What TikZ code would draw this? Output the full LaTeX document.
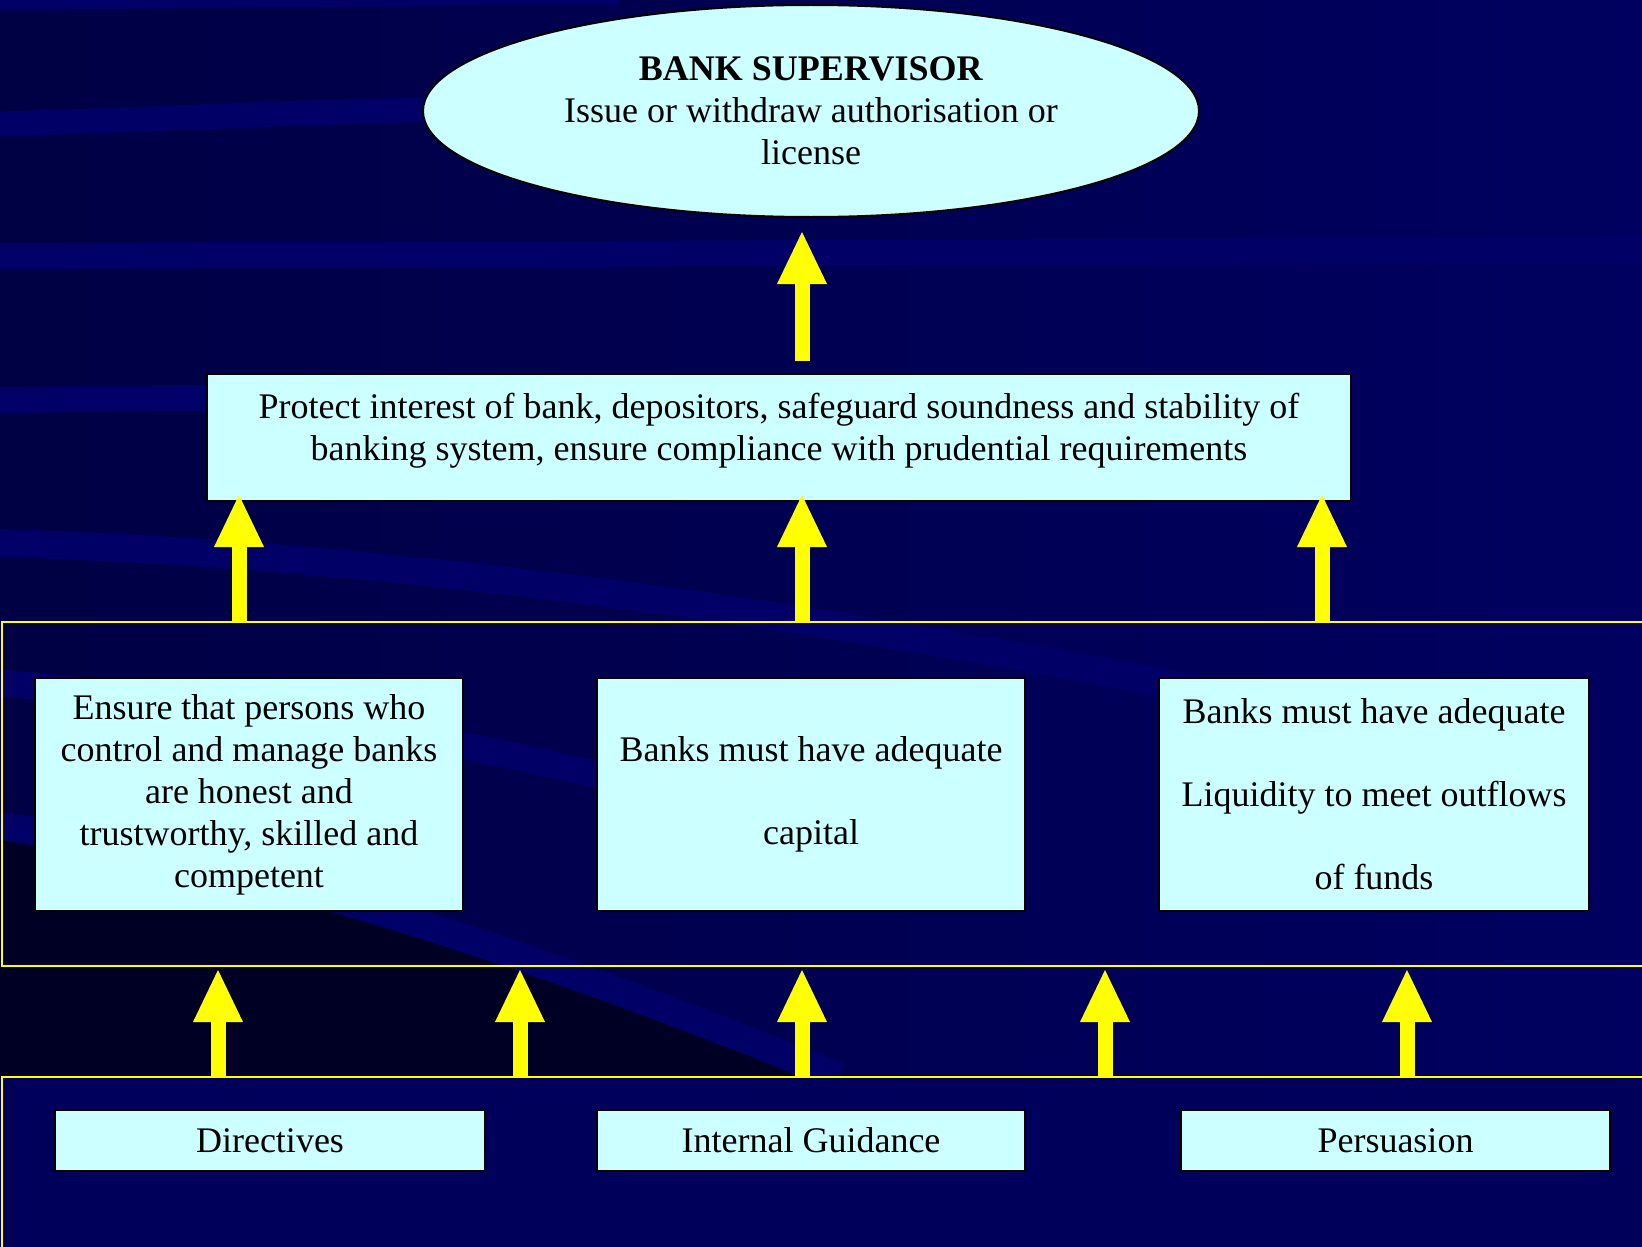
\documentclass[tikz,border=0pt]{standalone}
\usepackage{fontspec}
\setmainfont{Liberation Serif}
\usetikzlibrary{shapes.geometric,arrows.meta,calc}
\definecolor{bgL}{HTML}{000044}
\definecolor{bgR}{HTML}{000060}
\definecolor{bandc}{HTML}{000066}
\definecolor{darkc}{HTML}{000024}
\definecolor{botc}{HTML}{00005A}
\definecolor{boxc}{HTML}{CCFFFF}
\definecolor{yel}{HTML}{FFFF00}
\begin{document}
\begin{tikzpicture}[x=1pt,y=-1pt,
  every node/.style={font=\fontsize{36pt}{42pt}\selectfont, text=black},
  cbox/.style={draw=black, line width=2pt, fill=boxc, inner sep=0pt, align=center},
  band/.style={draw=bandc, line width=#1},
  yarrow/.style={draw=yel, line width=15pt, -{Triangle[width=50pt,length=52pt,line width=0pt]}},
  panel/.style={draw=yel, line width=2pt}]
% background
\fill[left color=bgL, right color=bgR] (0,0) rectangle (1642,1247);
\useasboundingbox (0,0) rectangle (1642,1247);
\draw[band=10pt] (0,5) .. controls (200,3) and (400,1) .. (620,0);
\draw[band=25pt] (0,124) .. controls (150,120) and (300,110) .. (700,104);
\draw[band=26pt] (0,256) -- (1642,250);
\draw[band=26pt] (0,400) .. controls (100,399) and (200,397) .. (400,397);
\draw[band=28pt] (0,543) .. controls (300,552) and (700,590) .. (1250,700);
\draw[band=27pt] (0,683) .. controls (250,705) and (450,735) .. (700,800);
\fill[darkc] (0,840) .. controls (250,876) and (500,954) .. (860,1100) -- (0,1100) -- cycle;
\draw[band=28pt] (0,826) .. controls (250,862) and (500,940) .. (840,1077);
\fill[botc] (0,1077) rectangle (1642,1247);
% panels
\draw[panel] (1650,622) -- (2,622) -- (2,966) -- (1650,966);
\draw[panel] (2,1260) -- (2,1077) -- (1650,1077);
\coordinate (u1) at (239,622);
\coordinate (u2) at (802,622);
\coordinate (u3) at (1322,622);
\coordinate (l1) at (218,1077);
\coordinate (l2) at (520,1077);
\coordinate (l3) at (802,1077);
\coordinate (l4) at (1105,1077);
\coordinate (l5) at (1407,1077);
\coordinate (m1) at (0,966);
% nodes
\node[cbox, ellipse, minimum width=776pt, minimum height=212pt] (sup) at (811,111)
  {\textbf{BANK SUPERVISOR}\\Issue or withdraw authorisation or\\license};
\node[cbox, minimum width=1144pt, minimum height=127pt] (prot) at (779,437.5) {};
\node[align=center] (prottxt) at (779,431)
  {Protect interest of bank, depositors, safeguard soundness and stability of\\banking system, ensure compliance with prudential requirements};
\node[cbox, minimum width=428pt, minimum height=233pt] (b1) at (249,794.5)
  {Ensure that persons who\\control and manage banks\\are honest and\\trustworthy, skilled and\\competent};
\node[cbox, minimum width=428pt, minimum height=233pt] (b2) at (811,794.5)
  {Banks must have adequate\\[41pt]capital};
\node[cbox, minimum width=430pt, minimum height=233pt] (b3) at (1374,794.5)
  {Banks must have adequate\\[41pt]Liquidity to meet outflows\\[41pt]of funds};
\node[cbox, minimum width=430pt, minimum height=61pt] (d1) at (270,1140.5) {Directives};
\node[cbox, minimum width=428pt, minimum height=61pt] (d2) at (811,1140.5) {Internal Guidance};
\node[cbox, minimum width=429pt, minimum height=61pt] (d3) at (1395.5,1140.5) {Persuasion};
% arrows
\draw[yarrow] ($(prot.north)+(23,-12)$) -- ($(sup.south)+(-9,14)$);
\draw[yarrow] (u1) -- ($(u1 |- prot.south)+(0,-7)$);
\draw[yarrow] (u2) -- ($(u2 |- prot.south)+(0,-7)$);
\draw[yarrow] (u3) -- ($(u3 |- prot.south)+(0,-7)$);
\draw[yarrow] (l1) -- ($(l1 |- m1)+(0,4)$);
\draw[yarrow] (l2) -- ($(l2 |- m1)+(0,4)$);
\draw[yarrow] (l3) -- ($(l3 |- m1)+(0,4)$);
\draw[yarrow] (l4) -- ($(l4 |- m1)+(0,4)$);
\draw[yarrow] (l5) -- ($(l5 |- m1)+(0,4)$);
\end{tikzpicture}
\end{document}
